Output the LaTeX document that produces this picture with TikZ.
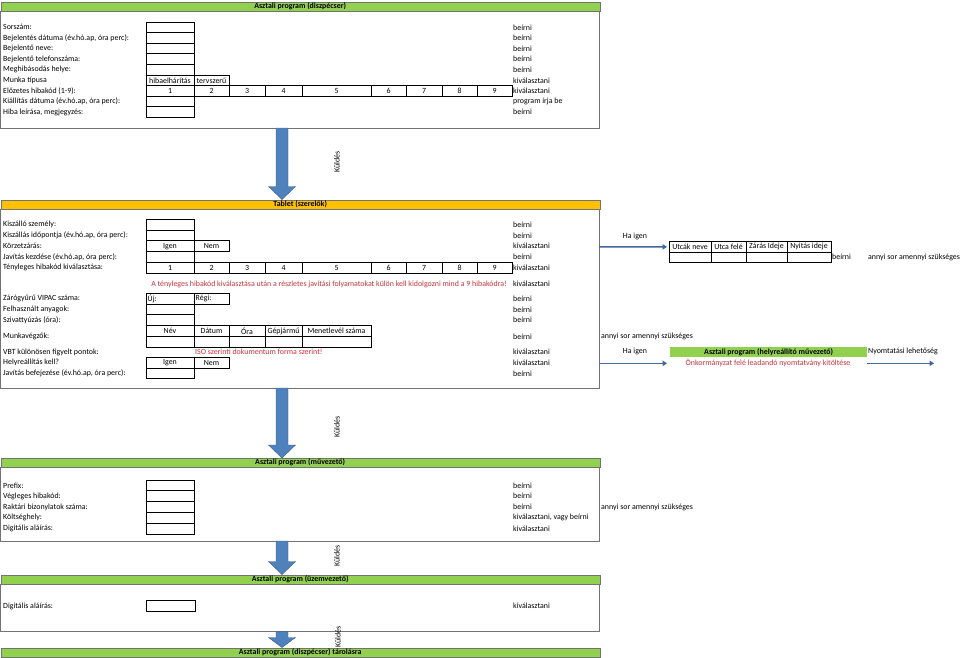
\documentclass[tikz,border=0pt]{standalone}
\usepackage{fontspec}
\setmainfont{Carlito}
\usetikzlibrary{arrows.meta,calc}

\definecolor{hdrgreen}{HTML}{92D050}
\definecolor{hdryellow}{HTML}{FFC000}
\definecolor{arrfill}{HTML}{4F81BD}
\definecolor{arrline}{HTML}{385D8A}
\definecolor{linkblue}{HTML}{41689C}
\definecolor{warnred}{HTML}{C8323A}

\newcommand\cellfont{\fontsize{7.9}{9}\selectfont}

\tikzset{
  lbl/.style={anchor=west, inner sep=0pt, font=\cellfont},
  cell/.style={draw, line width=0.9pt, anchor=north west, inner sep=0pt, outer sep=0pt,
    minimum height=10.7pt, font=\cellfont},
  thincell/.style={cell, line width=0.6pt, minimum height=10.3pt},
  hdrbar/.style={draw=black!55, line width=0.4pt, anchor=north west, inner sep=0pt,
    minimum height=9pt, minimum width=599pt, font=\cellfont\bfseries},
  secbox/.style={draw=black!55, line width=0.7pt},
  warn/.style={inner sep=0pt, font=\cellfont, text=warnred},
  sendarrow/.style={fill=arrfill, draw=arrline, line width=0.4pt},
  kuld/.style={inner sep=0pt, rotate=90, font=\cellfont},
  link/.style={draw=linkblue, line width=1.4pt, -{Triangle[length=4.5pt,width=5.5pt]}},
}

% nine hibakod cells in one row
\newcommand\codecells[2]{%
  \foreach \a/\b [count=\k] in {146/194,194/229,229/265,265/302,302/371,371/406,406/442,442/477,477/512}
    \node[cell, minimum width={\b-\a}] (#1\k) at (\a,#2) {\k};}

% block arrow between two sections
\newcommand\sendarrow[3]{%
  \filldraw[sendarrow] let \p1=(#1), \p2=(#2) in
    (\x1-6pt,\y1) -- (\x1+6pt,\y1) -- (\x1+6pt,\y2+#3) -- (\x1+13.5pt,\y2+#3)
    -- (\x1,\y2) -- (\x1-13.5pt,\y2+#3) -- (\x1-6pt,\y2+#3) -- cycle;}

\begin{document}
\begin{tikzpicture}[x=1pt, y=-1pt]
  \useasboundingbox (0,0) rectangle (960,657);

  % Drawing section Asztali program (diszpecser)
  \node[hdrbar, fill=hdrgreen] (hd1) at (0.5,2) {Asztali program (diszpécser)};
  \draw[secbox] (hd1.south west) rectangle (599,128);
  \foreach \t [count=\i from 0] in {Sorszám:, {Bejelentés dátuma (év.hó.ap, óra perc):}, Bejelentő neve:,
      Bejelentő telefonszáma:, Meghibásodás helye:, Munka típusa, Előzetes hibakód (1-9):,
      {Kiállítás dátuma (év.hó.ap, óra perc):}, {Hiba leírása, megjegyzés:}}
    \node[lbl] (a\i) at (3,{27.3+10.6*\i}) {\t};
  \foreach \t [count=\i from 0] in {beírni, beírni, beírni, beírni, beírni, kiválasztani,
      kiválasztani, program írja be, beírni}
    \node[lbl] (ar\i) at (513,{27.3+10.6*\i}) {\t};
  \foreach \i in {0,...,4,7,8}
    \node[cell, minimum width=48pt] (ab\i) at (146,{22+10.6*\i}) {};
  \node[cell, minimum width=48pt] (tip1) at (146,75) {hibaelhárítás};
  \node[cell, minimum width=35pt] (tip2) at (194,75) {tervszerű};
  \codecells{ek}{85.6}

  % Drawing arrow Kuldes 1
  \coordinate (s1b) at (282,128);
  \coordinate (s2t) at (282,199.5);
  \sendarrow{s1b}{s2t}{13pt}
  \node[kuld] (k1) at (337,162) {Küldés};

  % Drawing section Tablet (szerelok)
  \node[hdrbar, fill=hdryellow] (hd2) at (0.5,199.5) {Tablet (szerelők)};
  \draw[secbox] (hd2.south west) rectangle (599,388);
  \foreach \t [count=\i from 0] in {Kiszálló személy:, {Kiszállás időpontja (év.hó.ap, óra perc):},
      Körzetzárás:, {Javítás kezdése (év.hó.ap, óra perc):}, Tényleges hibakód kiválasztása:}
    \node[lbl] (b\i) at (3,{224.85+10.7*\i}) {\t};
  \foreach \t [count=\i from 0] in {beírni, beírni, kiválasztani, beírni, kiválasztani}
    \node[lbl] (br\i) at (513,{224.85+10.7*\i}) {\t};
  \foreach \i in {0,1,3}
    \node[cell, minimum width=48pt] (bb\i) at (146,{219.5+10.7*\i}) {};
  \node[cell, minimum width=48pt] (kz1) at (146,240.9) {Igen};
  \node[cell, minimum width=35pt] (kz2) at (194,240.9) {Nem};
  \codecells{th}{262.3}
  \node[warn] (figy1) at (329,284) {A tényleges hibakód kiválasztása után a részletes javítási folyamatokat külön kell kidolgozni mind a 9 hibakódra!};
  \node[lbl] (br5) at (513,284) {kiválasztani};

  \foreach \t/\y [count=\i] in {Zárógyűrű VIPAC száma:/298.85, Felhasznált anyagok:/309.55,
      Szivattyúzás (óra):/320.25, Munkavégzők:/336.3, VBT különösen figyelt pontok:/352,
      Helyreállítás kell?/362.75, {Javítás befejezése (év.hó.ap, óra perc):}/373.45}
    \node[lbl] (c\i) at (3,\y) {\t};
  \foreach \t/\y [count=\i] in {beírni/298.85, beírni/309.55, beírni/320.25, beírni/336.3,
      kiválasztani/352, kiválasztani/362.75, beírni/373.45}
    \node[lbl] (cr\i) at (513,\y) {\t};
  \node[cell, minimum width=48pt] (zg1) at (146,293.5) {};
  \node[cell, minimum width=35pt] (zg2) at (194,293.5) {};
  \node[lbl] (zgu) at ([xshift=1.5pt]zg1.west) {Új:};
  \node[lbl] (zgr) at ([xshift=1.5pt]zg2.west) {Régi:};
  \node[cell, minimum width=48pt] (fa) at (146,304.2) {};
  \node[cell, minimum width=48pt] (sz) at (146,314.9) {};
  \foreach \a/\b/\t [count=\k] in {146/194/Név, 194/229/Dátum, 229/265/Óra, 265/302/Gépjármű,
      302/371/Menetlevél száma} {
    \node[cell, minimum width={\b-\a}] (mv\k) at (\a,325.6) {\t};
    \node[cell, minimum width={\b-\a}] (mw\k) at (\a,336.3) {};
  }
  \node[lbl] (mva) at (601,336.3) {annyi sor amennyi szükséges};
  \node[warn, anchor=west] (iso) at (195,352) {ISO szerinti dokumentum forma szerint!};
  \node[cell, minimum width=48pt] (hr1) at (146,357.4) {Igen};
  \node[cell, minimum width=35pt] (hr2) at (194,357.4) {Nem};
  \node[cell, minimum width=48pt] (jb) at (146,368.1) {};

  % Drawing Ha igen -> utcak table
  \coordinate (kz) at (599,246.8);
  \node[lbl, anchor=center] (hi1) at (635,236) {Ha igen};
  \foreach \a/\b/\t [count=\k] in {669/711/Utcák neve, 711/746/Utca felé, 746/787/Zárás Ideje,
      787/831/Nyitás ideje} {
    \node[thincell, minimum width={\b-\a}] (ut\k) at (\a,241.7) {\t};
    \node[thincell, minimum width={\b-\a}] (uu\k) at (\a,252) {};
  }
  \draw[link] (kz) -- ([xshift=-2pt]ut1.west);
  \node[lbl] (utb) at (832,257) {beírni};
  \node[lbl] (uta) at (868,257) {annyi sor amennyi szükséges};

  % Drawing Ha igen -> helyreallito muvezeto
  \coordinate (hk) at (599,363.3);
  \coordinate (hke) at (667,363.3);
  \node[lbl, anchor=center] (hi2) at (635,351.5) {Ha igen};
  \draw[link] (hk) -- (hke);
  \node[hdrbar, fill=hdrgreen, draw=none, minimum width=197pt, minimum height=9.7pt] (hrv)
    at (670,347) {Asztali program (helyreállító művezető)};
  \node[warn] (onk) at (768,362.5) {Önkormányzat felé leadandó nyomtatvány kitöltése};
  \node[lbl] (nyl) at (868,351.5) {Nyomtatási lehetőség};
  \coordinate (ny1) at (867,363.3);
  \coordinate (ny2) at (934,363.3);
  \draw[link] (ny1) -- (ny2);

  % Drawing arrow Kuldes 2
  \coordinate (s2b) at (282,388);
  \coordinate (s3t) at (282,458);
  \sendarrow{s2b}{s3t}{13pt}
  \node[kuld] (k2) at (337,427) {Küldés};

  % Drawing section Asztali program (muvezeto)
  \node[hdrbar, fill=hdrgreen] (hd3) at (0.5,458) {Asztali program (művezető)};
  \draw[secbox] (hd3.south west) rectangle (599,541);
  \foreach \t [count=\i from 0] in {Prefix:, Végleges hibakód:, Raktári bizonylatok száma:,
      Költséghely:, Digitális aláírás:}
    \node[lbl] (d\i) at (3,{485.4+10.8*\i}) {\t};
  \foreach \t [count=\i from 0] in {beírni, beírni, beírni, {kiválasztani, vagy beírni}, kiválasztani}
    \node[lbl] (dr\i) at (513,{485.4+10.8*\i}) {\t};
  \foreach \i in {0,...,4}
    \node[cell, minimum width=48pt, minimum height=10.8pt] (db\i) at (146,{480+10.8*\i}) {};
  \node[lbl] (dra) at (601,507) {annyi sor amennyi szükséges};

  % Drawing arrow Kuldes 3
  \coordinate (s3b) at (282,541);
  \coordinate (s4t) at (282,574.5);
  \sendarrow{s3b}{s4t}{13pt}
  \node[kuld] (k3) at (337,556) {Küldés};

  % Drawing section Asztali program (uzemvezeto)
  \node[hdrbar, fill=hdrgreen] (hd4) at (0.5,574.5) {Asztali program (üzemvezető)};
  \draw[secbox] (hd4.south west) rectangle (599,631.5);
  \node[lbl] (e0) at (3,606) {Digitális aláírás:};
  \node[cell, minimum width=49pt, minimum height=10.3pt] (eb0) at (146,600.8) {};
  \node[lbl] (er0) at (513,606) {kiválasztani};

  % Drawing arrow Kuldes 4
  \coordinate (s4b) at (282,631.5);
  \coordinate (s5t) at (282,647.5);
  \sendarrow{s4b}{s5t}{10pt}
  \node[kuld] (k4) at (338,637) {Küldés};

  % Drawing section Asztali program (diszpecser) tarolasra
  \node[hdrbar, fill=hdrgreen] (hd5) at (0.5,647.5) {Asztali program (diszpécser) tárolásra};
\end{tikzpicture}
\end{document}
